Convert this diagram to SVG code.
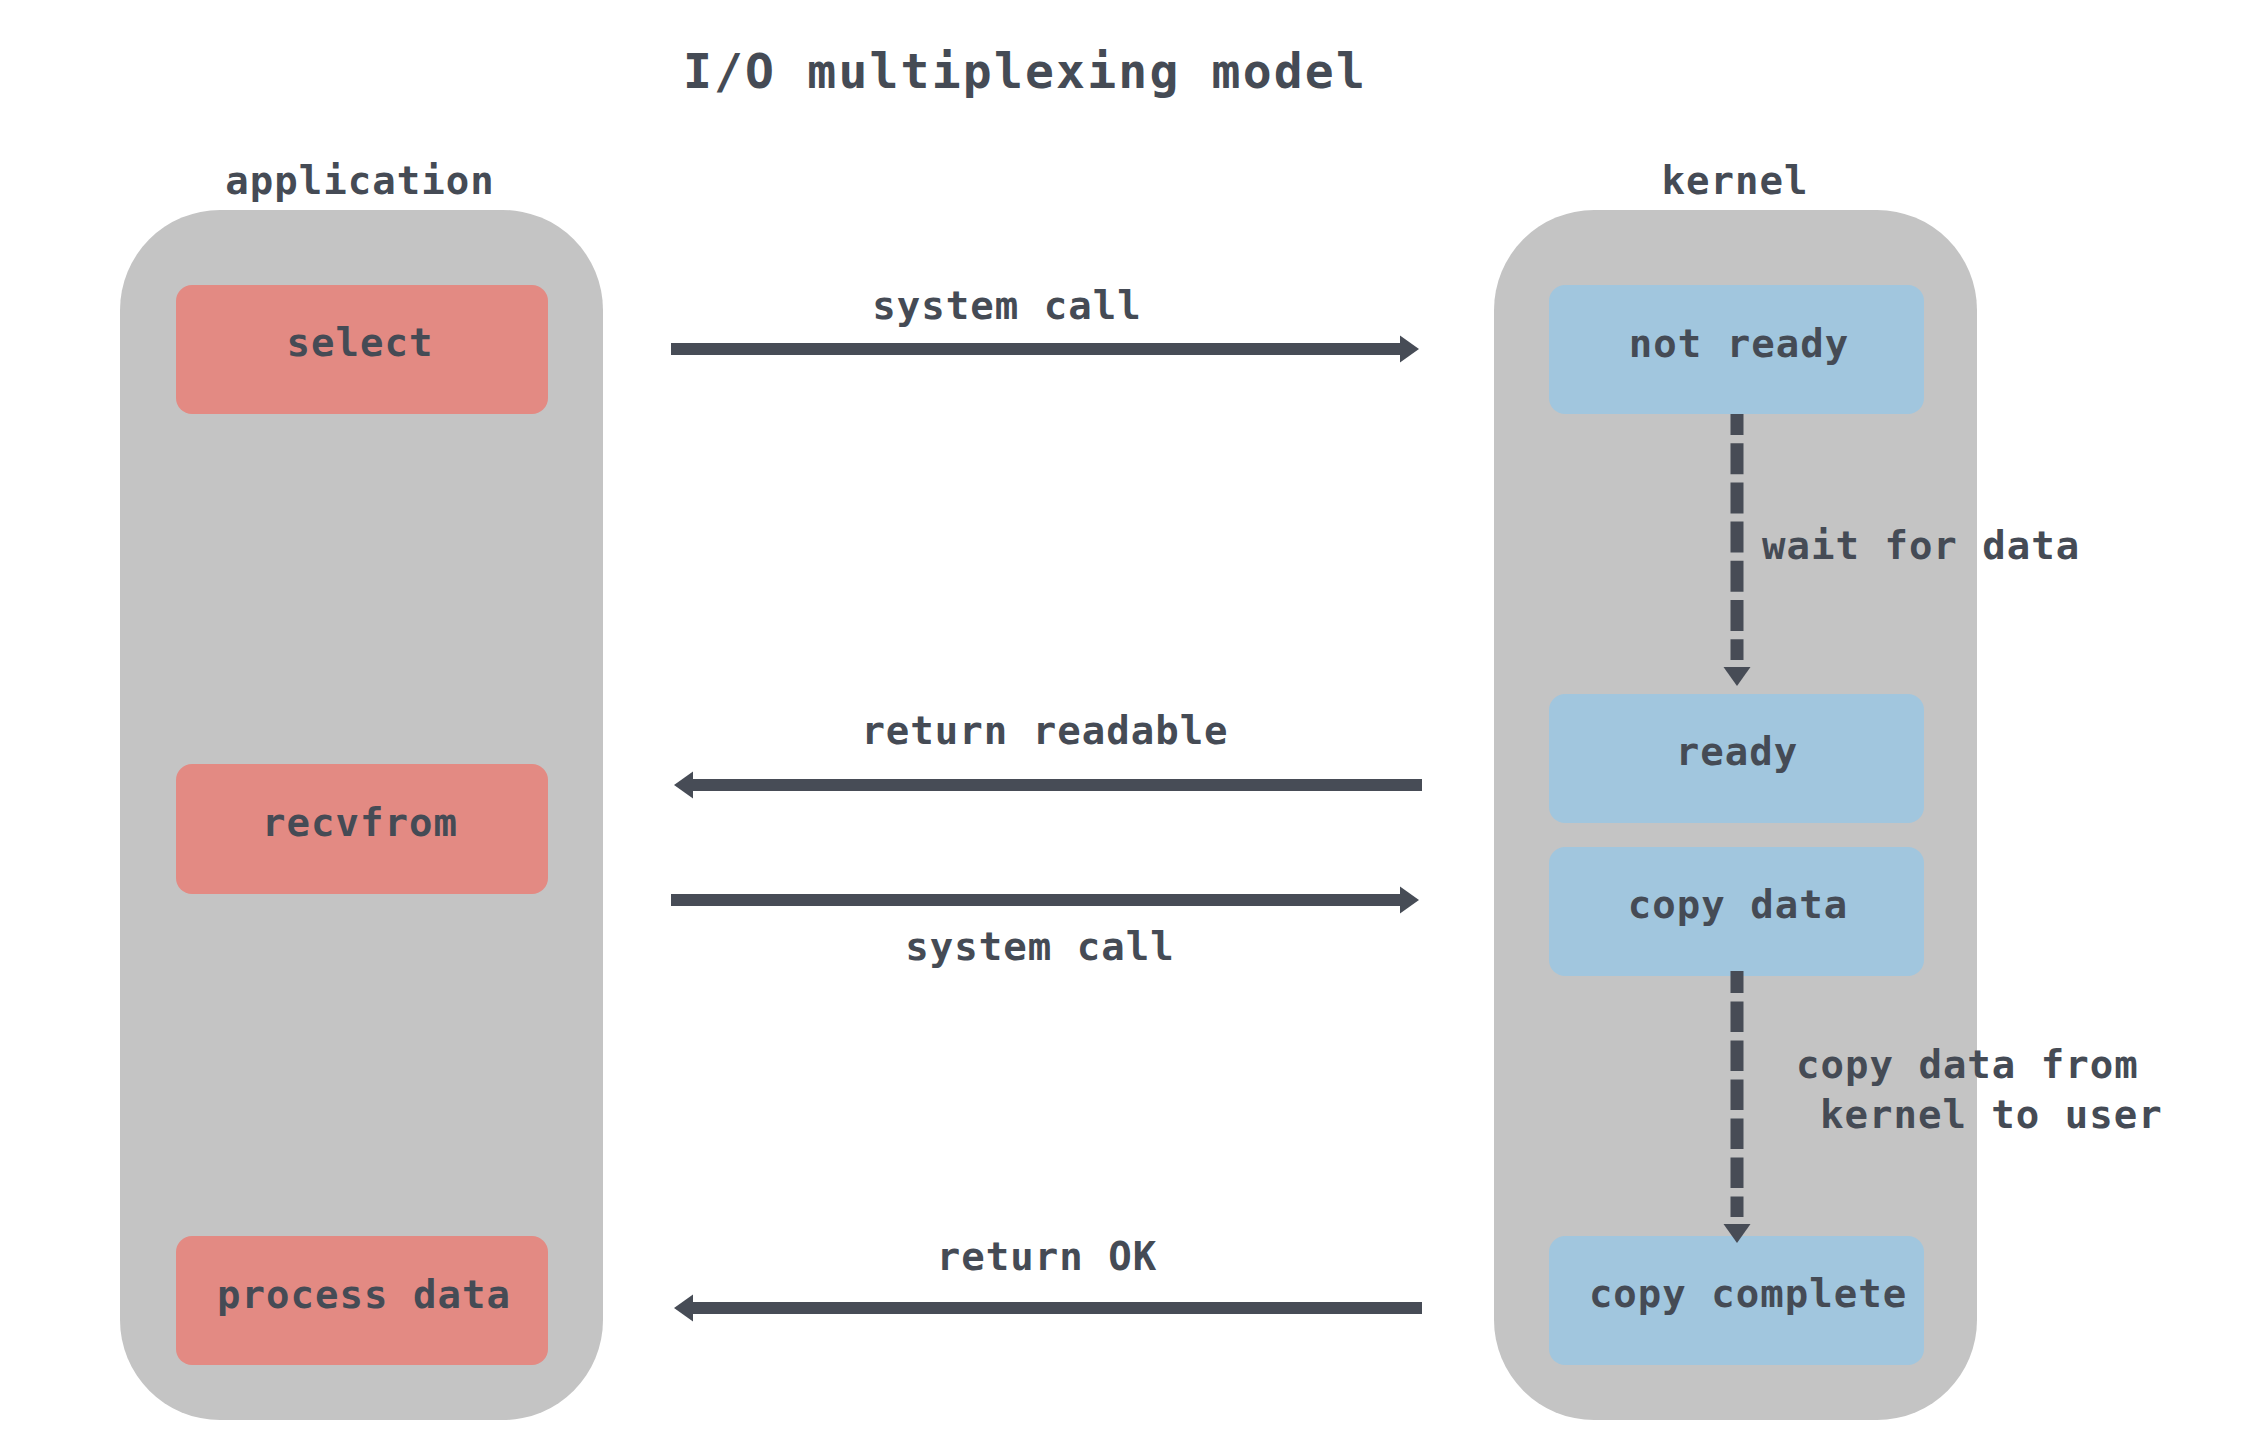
<svg xmlns="http://www.w3.org/2000/svg" width="2262" height="1440" viewBox="0 0 2262 1440">
<style>
  text { font-family: "DejaVu Sans Mono", "Liberation Mono", monospace; font-weight: bold; fill: #454b55; font-size: 39px; letter-spacing: 1px; }
  .title { font-size: 48px; letter-spacing: 2.2px; }
  .mid { text-anchor: middle; }
  .lane { fill: #c4c4c4; }
  .app { fill: #e38a83; }
  .ker { fill: #a1c6de; }
  .arrow { stroke: #474c56; stroke-width: 12; fill: none; }
  .dash { stroke: #474c56; stroke-width: 13; fill: none; }
</style>
<defs>
  <marker id="ah" markerUnits="userSpaceOnUse" markerWidth="19" markerHeight="27" refX="0" refY="13.5" orient="auto" overflow="visible">
    <path d="M0,0 L19,13.5 L0,27 Z" fill="#474c56"/>
  </marker>
  <marker id="dh" markerUnits="userSpaceOnUse" markerWidth="26" markerHeight="27" refX="-7" refY="13.5" orient="auto" overflow="visible">
    <path d="M0,0 L19,13.5 L0,27 Z" fill="#474c56"/>
  </marker>
</defs>
<rect width="2262" height="1440" fill="#ffffff"/>
<text class="title mid" x="1025" y="88">I/O multiplexing model</text>

<g id="application">
  <text class="mid" x="360" y="194">application</text>
  <rect class="lane" x="120" y="210" width="483" height="1210" rx="100" ry="100"/>
</g>
<g id="kernel">
  <text class="mid" x="1735" y="194">kernel</text>
  <rect class="lane" x="1494" y="210" width="483" height="1210" rx="100" ry="100"/>
</g>

<g id="select"><rect class="app" x="176" y="285" width="372" height="129" rx="16"/><text class="mid" x="360" y="356">select</text></g>
<g id="recvfrom"><rect class="app" x="176" y="764" width="372" height="130" rx="16"/><text class="mid" x="360" y="836">recvfrom</text></g>
<g id="process-data"><rect class="app" x="176" y="1236" width="372" height="129" rx="16"/><text class="mid" x="364" y="1308">process data</text></g>

<g id="not-ready"><rect class="ker" x="1549" y="285" width="375" height="129" rx="16"/><text class="mid" x="1739" y="357">not ready</text></g>
<g id="ready"><rect class="ker" x="1549" y="694" width="375" height="129" rx="16"/><text class="mid" x="1737" y="765">ready</text></g>
<g id="copy-data"><rect class="ker" x="1549" y="847" width="375" height="129" rx="16"/><text class="mid" x="1738" y="918">copy data</text></g>
<g id="copy-complete"><rect class="ker" x="1549" y="1236" width="375" height="129" rx="16"/><text class="mid" x="1748" y="1307">copy complete</text></g>

<g id="connectors">
  <line class="arrow" x1="671" y1="349" x2="1400" y2="349" marker-end="url(#ah)"/>
  <line class="arrow" x1="1422" y1="785" x2="693" y2="785" marker-end="url(#ah)"/>
  <line class="arrow" x1="671" y1="900" x2="1400" y2="900" marker-end="url(#ah)"/>
  <line class="arrow" x1="1422" y1="1308" x2="693" y2="1308" marker-end="url(#ah)"/>
  <line class="dash" x1="1737" y1="414" x2="1737" y2="660" stroke-dasharray="31 8.2" stroke-dashoffset="10" marker-end="url(#dh)"/>
  <line class="dash" x1="1737" y1="971" x2="1737" y2="1217" stroke-dasharray="30.5 8.5" stroke-dashoffset="8.5" marker-end="url(#dh)"/>
</g>

<g id="labels">
  <text class="mid" x="1007" y="319">system call</text>
  <text class="mid" x="1045" y="744">return readable</text>
  <text class="mid" x="1040" y="960">system call</text>
  <text class="mid" x="1047" y="1270">return OK</text>
  <text x="1762" y="559">wait for data</text>
  <text x="1796" y="1078">copy data from</text>
  <text x="1820" y="1128">kernel to user</text>
</g>
</svg>
